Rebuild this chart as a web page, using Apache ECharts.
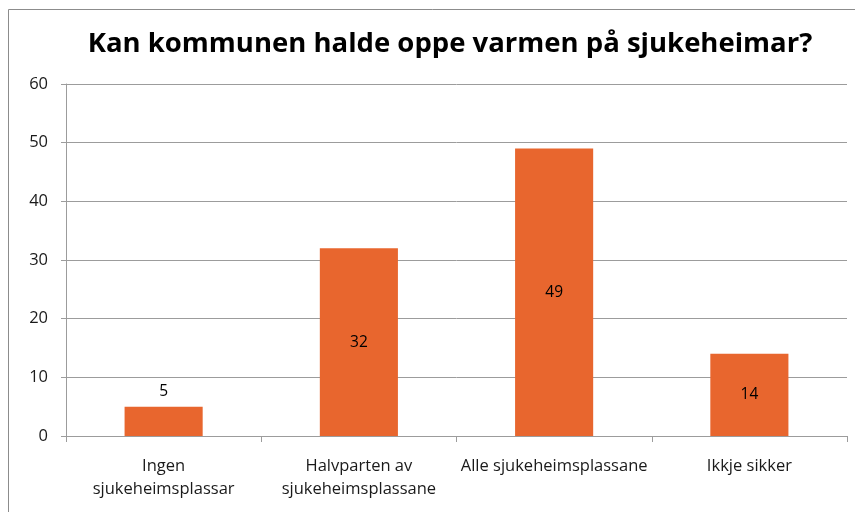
<!DOCTYPE html>
<html>
<head>
<meta charset="utf-8">
<script src="https://cdn.jsdelivr.net/npm/echarts@6/dist/echarts.min.js"></script>
<style>
  html, body { margin: 0; padding: 0; background: #fff; }
  #chart { width: 855px; height: 512px; }
</style>
</head>
<body>
<div id="chart"></div>
<script>
// data
var categories = ['Ingen\nsjukeheimsplassar', 'Halvparten av\nsjukeheimsplassane', 'Alle sjukeheimsplassane', 'Ikkje sikker'];
var values = [5, 32, 49, 14];
var yTicks = [0, 10, 20, 30, 40, 50, 60];

var chart = echarts.init(document.getElementById('chart'));

// small bars get their label on top, the rest inside
var barData = values.map(function (v) {
  return {
    value: v,
    label: { position: v < 10 ? 'top' : 'inside' }
  };
});

var option = {
  animation: false,
  textStyle: { fontFamily: 'Open Sans' },
  title: {
    text: 'Kan kommunen halde oppe varmen på sjukeheimar?',
    left: 445,
    textAlign: 'center',
    top: 25,
    textStyle: { fontSize: 27.5, fontWeight: 'bold', color: '#000', fontFamily: 'Open Sans' }
  },
  graphic: [{
    type: 'rect',
    shape: { x: 8.5, y: 9.5, width: 900, height: 600 },
    style: { fill: 'none', stroke: '#8c8c8c', lineWidth: 1 },
    silent: true
  }],
  grid: { left: 66, right: 8, top: 84, bottom: 76 },
  xAxis: {
    type: 'category',
    data: categories,
    axisLine: { lineStyle: { color: '#9c9c9c', width: 1 } },
    axisTick: { show: true, length: 6, lineStyle: { color: '#9c9c9c' } },
    axisLabel: { fontSize: 16.5, color: '#1a1a1a', margin: 19, lineHeight: 23, interval: 0 }
  },
  yAxis: {
    type: 'value',
    min: yTicks[0],
    max: yTicks[yTicks.length - 1],
    interval: 10,
    axisLine: { show: true, lineStyle: { color: '#9c9c9c', width: 1 } },
    axisTick: { show: true, length: 5, lineStyle: { color: '#9c9c9c' } },
    axisLabel: { fontSize: 16.5, color: '#1a1a1a', margin: 18 },
    splitLine: { lineStyle: { color: '#9c9c9c', width: 1 } }
  },
  series: [{
    type: 'bar',
    data: barData,
    barWidth: '40%',
    itemStyle: { color: '#e8662e' },
    label: { show: true, fontSize: 15.5, color: '#000', distance: 7 }
  }]
};

chart.setOption(option);
</script>
</body>
</html>
